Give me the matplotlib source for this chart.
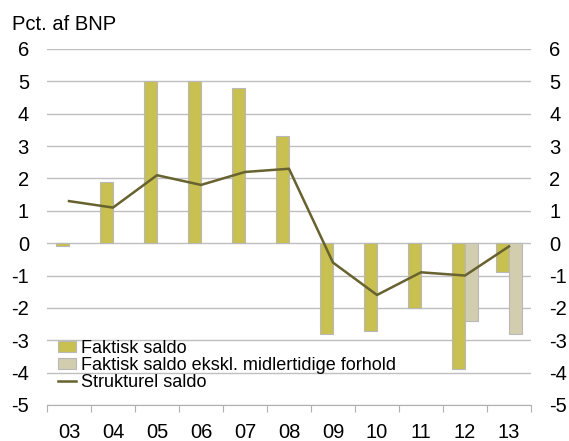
import matplotlib
matplotlib.use("Agg")
import matplotlib.pyplot as plt
import numpy as np

plt.rcParams['font.family'] = ['Liberation Sans', 'DejaVu Sans']

years = ["03", "04", "05", "06", "07", "08", "09", "10", "11", "12", "13"]
faktisk = [-0.1, 1.9, 5.0, 5.0, 4.8, 3.3, -2.8, -2.7, -2.0, -3.9, -0.9]
ekskl = [np.nan, np.nan, np.nan, np.nan, np.nan, np.nan, np.nan, np.nan, np.nan, -2.4, -2.8]
struktur = [1.3, 1.1, 2.1, 1.8, 2.2, 2.3, -0.6, -1.6, -0.9, -1.0, -0.1]
yticks = [6, 5, 4, 3, 2, 1, 0, -1, -2, -3, -4, -5]

fig = plt.figure(figsize=(5.69, 4.41), dpi=100)
ax = fig.add_axes([47/569, 1-405/441, (531-47)/569, (405-49)/441])

x = np.arange(len(years))
w = 0.29
b1 = ax.bar(x - w/2, faktisk, width=w, color='#C8C050', edgecolor='#B8B8B8', linewidth=0.8,
            label='Faktisk saldo', zorder=3)
b2 = ax.bar(x + w/2, ekskl, width=w, color='#D3CDB0', edgecolor='#B8B8B8', linewidth=0.8,
            label='Faktisk saldo ekskl. midlertidige forhold', zorder=3)
l1, = ax.plot(x, struktur, color='#67622F', linewidth=1.8, label='Strukturel saldo', zorder=4)

ax.set_xlim(-0.5, len(years) - 0.5)
ax.set_ylim(-5, 6)
ax.set_yticks(yticks)
ax.set_yticklabels([str(v) for v in yticks], fontsize=14.5)
ax.tick_params(axis='y', length=0, pad=13, labelright=True, labelleft=True)
ax.yaxis.grid(True, color='#BFBFBF', linewidth=1.0, zorder=0)
ax.set_axisbelow(True)

ax.set_xticks(np.arange(-0.5, len(years), 1.0))
ax.set_xticklabels([])
ax.set_xticks(x, minor=True)
ax.set_xticklabels(years, minor=True, fontsize=14.5)
ax.tick_params(axis='x', which='major', length=5, color='#B0B0B0', direction='out')
ax.tick_params(axis='x', which='minor', length=0, pad=13)

for s in ['top', 'left', 'right']:
    ax.spines[s].set_visible(False)
ax.spines['bottom'].set_color('#B0B0B0')

fig.text(12/569, 1-30/441, 'Pct. af BNP', fontsize=14.5, va='baseline', ha='left')

leg = ax.legend([b1, b2, l1], [b1.get_label(), b2.get_label(), l1.get_label()],
                loc='lower left', bbox_to_anchor=(0.022, 0.04), frameon=False, fontsize=13,
                handlelength=1.0, handleheight=0.6, handletextpad=0.3, labelspacing=0.0,
                borderaxespad=0, borderpad=0)

fig.savefig('out.png', dpi=100)
